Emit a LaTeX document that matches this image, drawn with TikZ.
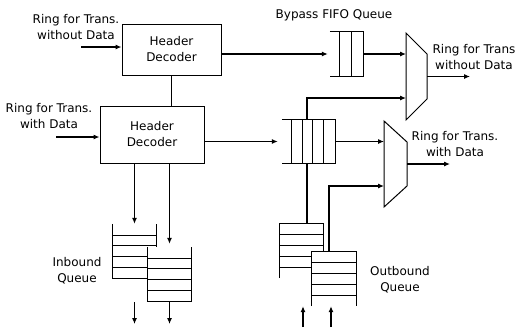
\documentclass[tikz,border=0pt]{standalone}
\usepackage{fontspec}
\setmainfont{DejaVu Sans}
\usetikzlibrary{arrows.meta, positioning, calc}
\tikzset{
    decoder/.style={
        rectangle, draw, line width=1pt,
        align=center, font=\fontsize{12}{16}\selectfont
    },
    slot/.style={rectangle, inner sep=0pt},
    queue/.style={line width=0.9pt},
    mux/.style={draw, line width=1pt},
    wire/.style={line width=1.1pt},
    arrow/.style={-{Latex[length=6pt,width=5pt]}, line width=1.1pt},
    anno/.style={align=center, font=\fontsize{12}{16}\selectfont}
}
\begin{document}
\begin{tikzpicture}[x=1pt, y=-1pt]
    \useasboundingbox (0,0) rectangle (516,327);

    % Header decoders
    \node[decoder, minimum width=99pt, minimum height=51pt] (hdA) at (171.5,49.5) {Header\\Decoder};
    \node[decoder, minimum width=104pt, minimum height=57pt] (hdB) at (152,134.5) {Header\\Decoder};
    \draw[wire] (hdA.south) -- (hdA.south |- hdB.north);

    % Ring inputs
    \coordinate (inA) at (81,47);
    \coordinate (inB) at (56,137);
    \node[anno] (lInA) at (76,27) {Ring for Trans.\\without Data};
    \node[anno] (lInB) at (49,116) {Ring for Trans.\\with Data};
    \draw[arrow] (inA) -- (inA -| hdA.west);
    \draw[arrow] (inB) -- (inB -| hdB.west);

    % Bypass FIFO
    \node[slot, minimum width=33pt, minimum height=45pt] (byp) at (346.5,54) {};
    \draw[queue] (byp.north west) -- (byp.north east) -- (byp.south east) -- (byp.south west);
    \foreach \x in {10,22}
        \draw[queue] ([xshift=\x pt]byp.north west) -- ([xshift=\x pt]byp.south west);
    \node[anno] (lByp) at (334,15) {Bypass FIFO Queue};

    % Data FIFO
    \node[slot, minimum width=53pt, minimum height=43pt] (dat) at (308.5,141.5) {};
    \draw[queue] (dat.north west) -- (dat.north east) -- (dat.south east) -- (dat.south west);
    \foreach \x in {10,21,31,42}
        \draw[queue] ([xshift=\x pt]dat.north west) -- ([xshift=\x pt]dat.south west);

    % Multiplexers
    \draw[mux] (406,33) -- (427,54) -- (427,99) -- (406,120) -- cycle;
    \coordinate (mxAin) at (406,76.5);
    \coordinate (mxAlo) at (406,98);
    \coordinate (mxAout) at (427,76.5);
    \coordinate (outA) at (470,76.5);
    \draw[mux] (384,121) -- (407,142) -- (407,186) -- (384,207) -- cycle;
    \coordinate (mxBin) at (384,164);
    \coordinate (mxBlo) at (384,186);
    \coordinate (mxBout) at (407,164);
    \coordinate (outB) at (450,164);

    % Decoder outputs
    \draw[arrow] (hdA.east |- byp.west) -- ([xshift=-2pt]byp.west);
    \draw[arrow] (hdB.east |- dat.west) -- ([xshift=-4pt]dat.west);
    \draw[arrow] (byp.east) -- (byp.east -| mxAin);
    \draw[arrow] ([xshift=-1.5pt]dat.north) |- (mxAlo);
    \draw[arrow] (dat.east) -- (dat.east -| mxBin);

    % Ring outputs
    \draw[arrow] (mxAout) -- (outA);
    \draw[arrow] (mxBout) -- (outB);
    \node[anno] (lOutA) at (474,57) {Ring for Trans\\without Data};
    \node[anno] (lOutB) at (455,144) {Ring for Trans.\\with Data};

    % Inbound queue
    \node[slot, minimum width=43pt, minimum height=54pt] (iq1) at (134.5,251) {};
    \draw[queue] (iq1.north west) -- (iq1.south west) -- (iq1.south east) -- (iq1.north east);
    \foreach \k in {1,...,4}
        \draw[queue] ([yshift=\k*10.8pt]iq1.south west) -- ([yshift=\k*10.8pt]iq1.south east);
    \node[slot, minimum width=43pt, minimum height=54pt, fill=white] (iq2) at (169.5,274) {};
    \draw[queue] (iq2.north west) -- (iq2.south west) -- (iq2.south east) -- (iq2.north east);
    \foreach \k in {1,...,4}
        \draw[queue] ([yshift=\k*10.8pt]iq2.south west) -- ([yshift=\k*10.8pt]iq2.south east);
    \node[anno] (lIq) at (77,271) {Inbound\\Queue};
    \draw[arrow] (hdB.south -| iq1.north) -- (iq1.north);
    \draw[arrow] (hdB.south -| iq2.north) -- ([yshift=3pt]iq2.north);
    \coordinate (iqA) at (134.5,302);
    \coordinate (iqB) at (169.5,302);
    \coordinate (iqAend) at (134.5,324);
    \coordinate (iqBend) at (169.5,324);
    \draw[arrow] (iqA) -- (iqAend);
    \draw[arrow] (iqB) -- (iqBend);

    % Outbound queue
    \node[slot, minimum width=43pt, minimum height=54pt] (oq1) at (301.5,251) {};
    \draw[queue] (oq1.south west) -- (oq1.north west) -- (oq1.north east) -- (oq1.south east);
    \foreach \k in {1,...,4}
        \draw[queue] ([yshift=-\k*10.8pt]oq1.north west) -- ([yshift=-\k*10.8pt]oq1.north east);
    \node[slot, minimum width=44pt, minimum height=54pt, fill=white] (oq2) at (334,279) {};
    \draw[queue] (oq2.south west) -- (oq2.north west) -- (oq2.north east) -- (oq2.south east);
    \foreach \k in {1,...,4}
        \draw[queue] ([yshift=-\k*10.8pt]oq2.north west) -- ([yshift=-\k*10.8pt]oq2.north east);
    \node[anno] (lOq) at (400,280) {Outbound\\Queue};
    \draw[wire] ([xshift=5.5pt]oq1.north) -- ([xshift=5.5pt]oq1.north |- dat.south);
    \draw[arrow] ([xshift=-5pt]oq2.north) |- (mxBlo);
    \coordinate (oqA) at (303,327);
    \coordinate (oqB) at (331,327);
    \draw[arrow] (oqA) -- (oq2.south -| oqA);
    \draw[arrow] (oqB) -- (oq2.south -| oqB);

\end{tikzpicture}
\end{document}
